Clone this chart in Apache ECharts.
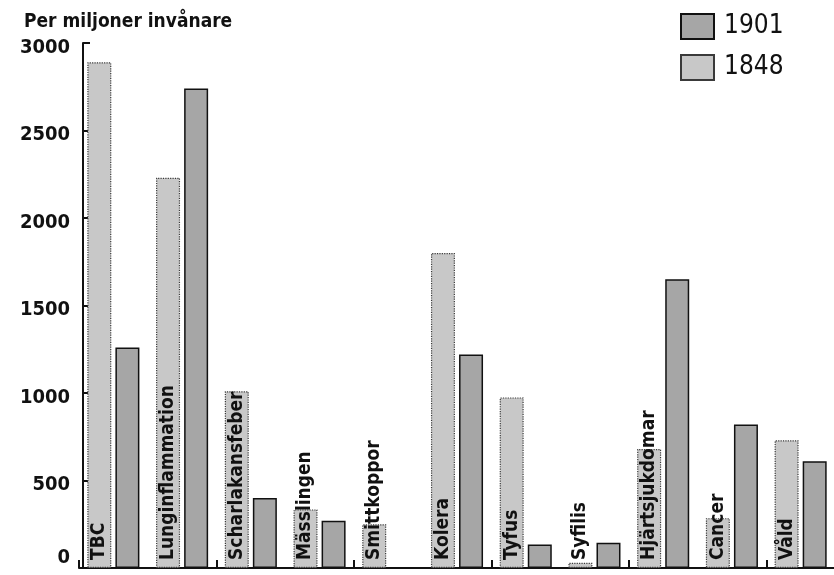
<!DOCTYPE html>
<html>
<head>
<meta charset="utf-8">
<script src="https://cdn.jsdelivr.net/npm/echarts@6/dist/echarts.min.js"></script>
<style>
html,body{margin:0;padding:0;background:#fff;}
#chart{width:834px;height:575px;}
</style>
</head>
<body>
<div id="chart"></div>
<script>
const categories = ['TBC','Lunginflammation','Scharlakansfeber','Mässlingen','Smittkoppor','Kolera','Tyfus','Syfilis','Hjärtsjukdomar','Cancer','Våld'];
const values1848 = [2890, 2230, 1010, 335, 250, 1800, 975, 30, 680, 285, 730];
const values1901 = [1260, 2740, 400, 270, 0, 1220, 135, 145, 1650, 820, 610];
const yTicks = [0, 500, 1000, 1500, 2000, 2500, 3000];
const titleText = 'Per miljoner invånare';

const cond = "'DejaVu Sans Condensed','DejaVu Sans',sans-serif";
const yMin = yTicks[0], yMax = yTicks[yTicks.length-1];

const chart = echarts.init(document.getElementById('chart'), null, {renderer:'canvas'});
chart.setOption({
  animation:false,
  backgroundColor:'#ffffff',
  title:{
    text:titleText, left:19, top:8,
    textStyle:{fontFamily:cond, fontWeight:'bold', fontSize:19, color:'#111'}
  },
  legend:{
    data:['1901','1848'], orient:'vertical', left:675, top:8,
    itemWidth:33, itemHeight:25, itemGap:14, icon:'rect',
    textStyle:{fontFamily:cond, fontSize:26, color:'#111', padding:[0,0,0,5]}
  },
  grid:{left:79, right:-1, top:43, bottom:7, containLabel:false, outerBoundsMode:'none'},
  xAxis:{
    type:'category', data:categories, boundaryGap:true,
    axisLine:{show:true, lineStyle:{color:'#111', width:2}},
    axisTick:{show:true, inside:true, length:8, alignWithLabel:false, lineStyle:{color:'#111', width:2}},
    axisLabel:{show:false}, splitLine:{show:false}
  },
  yAxis:[{
    type:'value', min:yMin, max:yMax, interval:yTicks[1]-yTicks[0],
    offset:-4,
    axisLine:{show:true, lineStyle:{color:'#111', width:2}},
    axisTick:{show:true, inside:true, length:7, lineStyle:{color:'#111', width:2}},
    axisLabel:{show:true, showMinLabel:false, margin:13, fontFamily:cond, fontWeight:'bold', fontSize:20, color:'#111',
      verticalAlign:'top', lineHeight:9, formatter:function(v){return String(v);}},
    splitLine:{show:false}
  },{
    type:'value', min:yMin, max:yMax, interval:yMax,
    offset:-4, position:'left',
    axisLine:{show:false},
    axisTick:{show:true, inside:true, length:20, lineStyle:{color:'#111', width:2}},
    axisLabel:{show:true, showMaxLabel:false, margin:13, fontFamily:cond, fontWeight:'bold', fontSize:20, color:'#111',
      verticalAlign:'bottom', lineHeight:20, formatter:function(v){return v===yMin?String(v):'';}},
    splitLine:{show:false}
  }],
  series:[{
    name:'1848', type:'bar', data:values1848, barWidth:24, barGap:'17%',
    itemStyle:{color:'#c8c8c8', borderColor:'#3a3a3a', borderWidth:1.2, borderType:'dotted'},
    label:{
      show:true, position:'insideBottom', distance:8, rotate:90, align:'left', verticalAlign:'middle',
      formatter:'{b}', fontFamily:cond, fontWeight:'bold', fontSize:19, color:'#111'
    },
    z:3
  },{
    name:'1901', type:'bar', data:values1901, barWidth:24, barGap:'17%',
    itemStyle:{color:'#a6a6a6', borderColor:'#111', borderWidth:1.5},
    z:2
  }]
});
</script>
</body>
</html>
